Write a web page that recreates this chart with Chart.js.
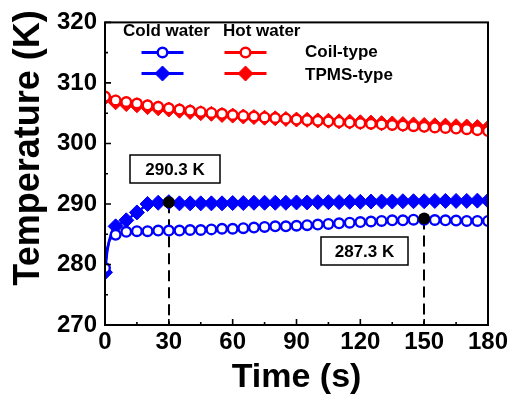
<!DOCTYPE html>
<html>
<head>
<meta charset="utf-8">
<script src="https://cdn.jsdelivr.net/npm/chart.js@4.4.1/dist/chart.umd.min.js"></script>
<style>
  html, body { margin: 0; padding: 0; background: #fff; }
  #wrap { width: 516px; height: 397px; position: relative; }
</style>
</head>
<body>
<div id="wrap"><canvas id="c" width="516" height="397"></canvas></div>
<script>
// ---- data ----
const time = [0,5,10,15,20,25,30,35,40,45,50,55,60,65,70,75,80,85,90,95,100,105,110,115,120,125,130,135,140,145,150,155,160,165,170,175,180];

const hotCoil = [307.75,307.1,306.85,306.6,306.3,306.05,305.8,305.6,305.4,305.2,305.05,304.9,304.7,304.55,304.45,304.3,304.2,304.1,303.95,303.85,303.75,303.65,303.55,303.45,303.35,303.25,303.15,303.05,302.95,302.85,302.75,302.65,302.55,302.45,302.35,302.2,302.05];
const hotTpms = [307.6,306.8,306.5,306.3,306.0,305.8,305.6,305.4,305.2,305.0,304.9,304.7,304.6,304.45,304.35,304.25,304.15,304.05,303.95,303.9,303.8,303.75,303.65,303.6,303.5,303.45,303.35,303.3,303.2,303.15,303.05,303.0,302.95,302.85,302.8,302.7,302.6];
const coldCoil = [279.4,284.9,285.4,285.5,285.5,285.6,285.6,285.6,285.7,285.7,285.8,285.9,285.9,286.0,286.1,286.2,286.3,286.3,286.4,286.5,286.6,286.7,286.8,286.9,287.0,287.1,287.2,287.3,287.3,287.4,287.4,287.35,287.3,287.25,287.2,287.2,287.2];
const coldTpms = [278.7,286.3,287.3,288.6,290.0,290.2,290.3,290.1,290.1,290.1,290.1,290.1,290.15,290.15,290.2,290.2,290.2,290.2,290.25,290.25,290.3,290.3,290.3,290.35,290.35,290.4,290.4,290.4,290.45,290.45,290.45,290.5,290.5,290.5,290.5,290.55,290.55];

// unmarked samples of the fast start-up (between 0 s and 5 s)
const startTime = [1,2,3,4];
const coldCoilStart = [282.6,283.9,284.5,284.8];
const coldTpmsStart = [282.0,284.0,285.2,285.9];

// marked points (annotations)
const markTime = [30,150];
const markTemp = [290.3,287.6];
const markLabels = ['290.3 K','287.3 K'];

const xTicks = [0,30,60,90,120,150,180];
const xMinor = [15,45,75,105,135,165];
const yTicks = [270,280,290,300,310,320];
const yMinor = [275,285,295,305,315];

const headerLabels = ['Cold water','Hot water'];
const typeLabels = ['Coil-type','TPMS-type'];
const xTitle = 'Time (s)';
const yTitle = 'Temperature (K)';

// ---- build points ----
function pts(t, v, extraT, extraV) {
  const out = t.map((x, i) => ({x: x, y: v[i], m: true}));
  if (extraT) extraT.forEach((x, i) => out.push({x: x, y: extraV[i], m: false}));
  out.sort((a, b) => a.x - b.x);
  return out;
}
const RED = '#ff0000', BLUE = '#0000ff';
const FONT = '"Liberation Sans", Arial, sans-serif';
const CIRC_R = 4.8, DIAM_R = 7.5;

function rad(r) { return ctx => (ctx.raw && ctx.raw.m === false) ? 0 : r; }

const datasets = [
  { label: 'Hot Coil', data: pts(time, hotCoil), borderColor: RED, backgroundColor: '#fff',
    pointStyle: 'circle', pointRadius: CIRC_R, pointBorderWidth: 2.4, borderWidth: 2.5, order: 1 },
  { label: 'Hot TPMS', data: pts(time, hotTpms), borderColor: RED, backgroundColor: RED,
    pointStyle: 'rectRot', pointRadius: DIAM_R, pointBorderWidth: 1, borderWidth: 2.5, order: 2 },
  { label: 'Cold Coil', data: pts(time, coldCoil, startTime, coldCoilStart), borderColor: BLUE, backgroundColor: '#fff',
    pointStyle: 'circle', pointRadius: rad(CIRC_R), pointBorderWidth: 2.4, borderWidth: 2.5, order: 3 },
  { label: 'Cold TPMS', data: pts(time, coldTpms, startTime, coldTpmsStart), borderColor: BLUE, backgroundColor: BLUE,
    pointStyle: 'rectRot', pointRadius: rad(DIAM_R), pointBorderWidth: 1, borderWidth: 2.5, order: 4 },
  { label: 'Marks', data: markTime.map((x, i) => ({x: x, y: markTemp[i]})), showLine: false,
    borderColor: '#000', backgroundColor: '#000', pointStyle: 'circle', pointRadius: 6, pointBorderWidth: 0, order: 0 }
];

// ---- plugin: frame, inward ticks, titles, legend, annotations ----
const deco = {
  id: 'deco',
  beforeDatasetsDraw(chart) {
    const {ctx, scales: {x, y}} = chart;
    ctx.save();
    ctx.strokeStyle = '#000';
    ctx.lineWidth = 2;
    ctx.setLineDash([11, 6]);
    markTime.forEach((t, i) => {
      const px = Math.round(x.getPixelForValue(t));
      ctx.beginPath();
      ctx.moveTo(px, y.getPixelForValue(markTemp[i]));
      ctx.lineTo(px, y.bottom);
      ctx.stroke();
    });
    ctx.restore();
  },
  afterDatasetsDraw(chart) {
    const {ctx, chartArea: a, scales: {x, y}} = chart;
    ctx.save();
    // frame
    ctx.strokeStyle = '#000';
    ctx.lineWidth = 2;
    ctx.setLineDash([]);
    ctx.strokeRect(a.left, a.top, a.right - a.left, a.bottom - a.top);
    // inward ticks
    ctx.lineWidth = 1.6;
    ctx.beginPath();
    xTicks.forEach(v => { const p = x.getPixelForValue(v); ctx.moveTo(p, a.bottom); ctx.lineTo(p, a.bottom - 6); });
    xMinor.forEach(v => { const p = x.getPixelForValue(v); ctx.moveTo(p, a.bottom); ctx.lineTo(p, a.bottom - 3); });
    yTicks.forEach(v => { const p = y.getPixelForValue(v); ctx.moveTo(a.left, p); ctx.lineTo(a.left + 6, p); });
    yMinor.forEach(v => { const p = y.getPixelForValue(v); ctx.moveTo(a.left, p); ctx.lineTo(a.left + 3, p); });
    ctx.stroke();

    // axis titles
    ctx.fillStyle = '#000';
    ctx.font = 'bold 34px ' + FONT;
    ctx.textAlign = 'center';
    ctx.textBaseline = 'middle';
    ctx.fillText(xTitle, (a.left + a.right) / 2, 378);
    ctx.save();
    ctx.translate(29, 148);
    ctx.rotate(-Math.PI / 2);
    ctx.font = 'bold 36px ' + FONT;
    ctx.fillText(yTitle, 0, 0);
    ctx.restore();

    // legend
    ctx.font = 'bold 17px ' + FONT;
    ctx.textAlign = 'left';
    ctx.textBaseline = 'middle';
    ctx.fillText(headerLabels[0], 123, 31);
    ctx.fillText(headerLabels[1], 223, 31);
    ctx.fillText(typeLabels[0], 305, 52);
    ctx.fillText(typeLabels[1], 305, 75);
    const rows = [
      [chart.data.datasets[2], 162.5, 52.5], [chart.data.datasets[0], 245.5, 52.5],
      [chart.data.datasets[3], 162.5, 73.5], [chart.data.datasets[1], 245.5, 73.5]
    ];
    rows.forEach(([ds, cx, cy]) => {
      ctx.strokeStyle = ds.borderColor;
      ctx.lineWidth = 3;
      ctx.beginPath(); ctx.moveTo(cx - 21, cy); ctx.lineTo(cx + 21, cy); ctx.stroke();
      const isCircle = ds.pointStyle === 'circle';
      const r = isCircle ? 4.8 : 7.5;
      ctx.fillStyle = ds.backgroundColor;
      ctx.lineWidth = isCircle ? 2.4 : 1;
      ctx.beginPath();
      if (isCircle) { ctx.arc(cx, cy, r, 0, Math.PI * 2); }
      else { ctx.moveTo(cx, cy - r); ctx.lineTo(cx + r, cy); ctx.lineTo(cx, cy + r); ctx.lineTo(cx - r, cy); ctx.closePath(); }
      ctx.fill(); ctx.stroke();
    });

    // annotation boxes
    const boxes = [[130, 155, 90, 28], [321, 237, 87, 28]];
    ctx.font = 'bold 17px ' + FONT;
    ctx.textAlign = 'center';
    boxes.forEach((b, i) => {
      ctx.fillStyle = '#fff';
      ctx.fillRect(b[0], b[1], b[2], b[3]);
      ctx.strokeStyle = '#000';
      ctx.lineWidth = 1.5;
      ctx.strokeRect(b[0], b[1], b[2], b[3]);
      ctx.fillStyle = '#000';
      ctx.fillText(markLabels[i], b[0] + b[2] / 2, b[1] + b[3] / 2 + 1);
    });
    ctx.restore();
  }
};

new Chart(document.getElementById('c'), {
  type: 'line',
  data: { datasets: datasets },
  options: {
    responsive: false,
    animation: false,
    devicePixelRatio: 1,
    layout: { padding: { left: 0, right: 28, top: 16, bottom: 0 } },
    plugins: { legend: { display: false }, tooltip: { enabled: false } },
    elements: { line: { tension: 0 } },
    scales: {
      x: {
        type: 'linear', min: 0, max: 180,
        grid: { display: false, drawTicks: false }, border: { display: false },
        afterBuildTicks: s => { s.ticks = xTicks.map(v => ({value: v})); },
        afterFit: s => { s.height = 72; },
        ticks: { padding: 3, color: '#000', font: { family: FONT, size: 24, weight: 'bold' }, maxRotation: 0 }
      },
      y: {
        type: 'linear', min: 270, max: 320,
        grid: { display: false, drawTicks: false }, border: { display: false },
        afterBuildTicks: s => { s.ticks = yTicks.map(v => ({value: v})); },
        afterFit: s => { s.width = 105; },
        ticks: { padding: 8, color: '#000', font: { family: FONT, size: 24, weight: 'bold' } }
      }
    }
  },
  plugins: [deco]
});
</script>
</body>
</html>
